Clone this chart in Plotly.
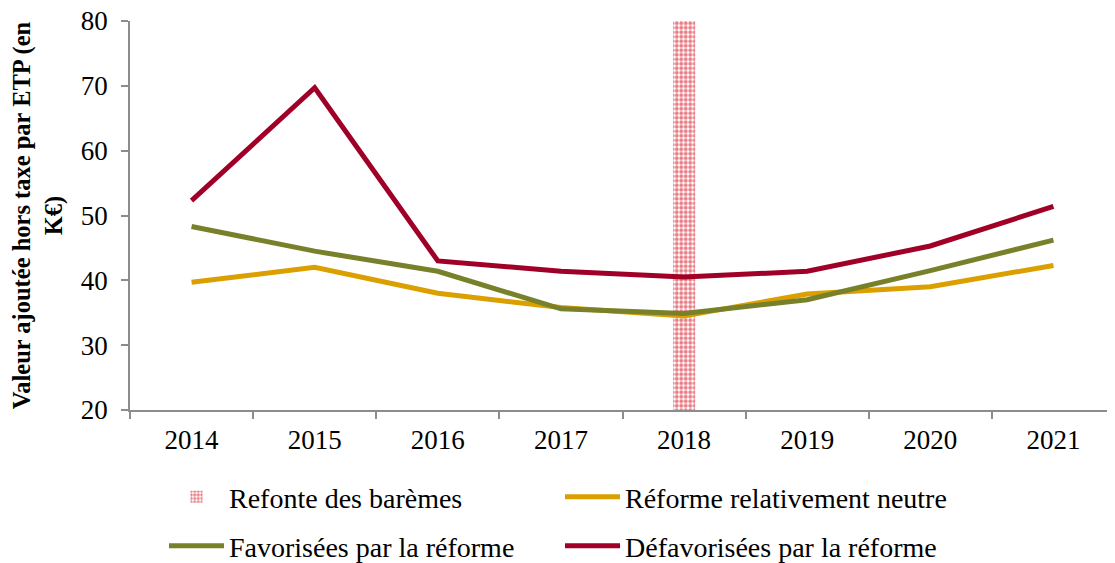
import plotly.graph_objects as go

years = ["2014", "2015", "2016", "2017", "2018", "2019", "2020", "2021"]
neutre = [39.7, 42.0, 38.0, 35.8, 34.5, 37.9, 39.0, 42.3]
favorisees = [48.3, 44.5, 41.4, 35.6, 34.9, 37.0, 41.5, 46.2]
defavorisees = [52.3, 69.7, 43.0, 41.4, 40.5, 41.4, 45.3, 51.4]
refonte_year = ["2018"]
refonte_low = [20]
refonte_high = [80]

FONT = "Liberation Serif"
W, H = 1107, 555  # page body has an 8px margin

fig = go.Figure()
fig.add_trace(go.Bar(
    x=refonte_year, y=[refonte_high[0] - refonte_low[0]], base=refonte_low,
    width=0.18, name="Refonte des barèmes", legend="legend",
    marker=dict(color="white", line=dict(width=0),
                pattern=dict(shape=".", fgcolor="#D4000E", bgcolor="white", size=4.5, solidity=0.6)),
))
fig.add_trace(go.Scatter(x=years, y=neutre, mode="lines", name="Réforme relativement neutre",
                         legend="legend", line=dict(color="#DBA000", width=5)))
fig.add_trace(go.Scatter(x=years, y=favorisees, mode="lines", name="Favorisées par la réforme",
                         legend="legend2", line=dict(color="#78812A", width=5)))
fig.add_trace(go.Scatter(x=years, y=defavorisees, mode="lines", name="Défavorisées par la réforme",
                         legend="legend2", line=dict(color="#A00028", width=5)))

leg_common = dict(orientation="h", xanchor="left", yanchor="middle", xref="container", yref="container",
                  entrywidth=326, entrywidthmode="pixels", itemwidth=55,
                  font=dict(family=FONT, size=28), traceorder="normal", bgcolor="rgba(0,0,0,0)")

fig.update_layout(
    width=W, height=H,
    margin=dict(l=122, r=0, t=13, b=153, autoexpand=False),
    plot_bgcolor="white", paper_bgcolor="white",
    font=dict(family=FONT, size=27, color="black"),
    showlegend=True,
    legend=dict(x=156 / W, y=1 - 489 / H, **leg_common),
    legend2=dict(x=156 / W, y=1 - 538 / H, **leg_common),
    xaxis=dict(type="category", categoryorder="array", categoryarray=years, automargin=False,
               showgrid=False, showline=True, linecolor="#8c8c8c", linewidth=1.5,
               ticks="outside", tickson="boundaries", ticklen=7, tickcolor="#8c8c8c", tickwidth=1.5,
               ticklabelstandoff=5, ticklabeloverflow="allow",
               tickfont=dict(family=FONT, size=27), range=[-0.5, 7.5]),
    yaxis=dict(range=[20, 80], tickvals=[20, 30, 40, 50, 60, 70, 80], showgrid=False, showline=True,
               linecolor="#8c8c8c", linewidth=1.5,
               ticks="outside", ticklen=7, tickcolor="#8c8c8c", tickwidth=1.5, zeroline=False,
               ticklabelstandoff=8, ticklabeloverflow="allow",
               automargin=False, tickfont=dict(family=FONT, size=27),
               title=dict(text="<b>Valeur ajoutée hors taxe par ETP (en<br>K€)</b>",
                          font=dict(family=FONT, size=24.5), standoff=18)),
)

fig.write_html("out.html")
